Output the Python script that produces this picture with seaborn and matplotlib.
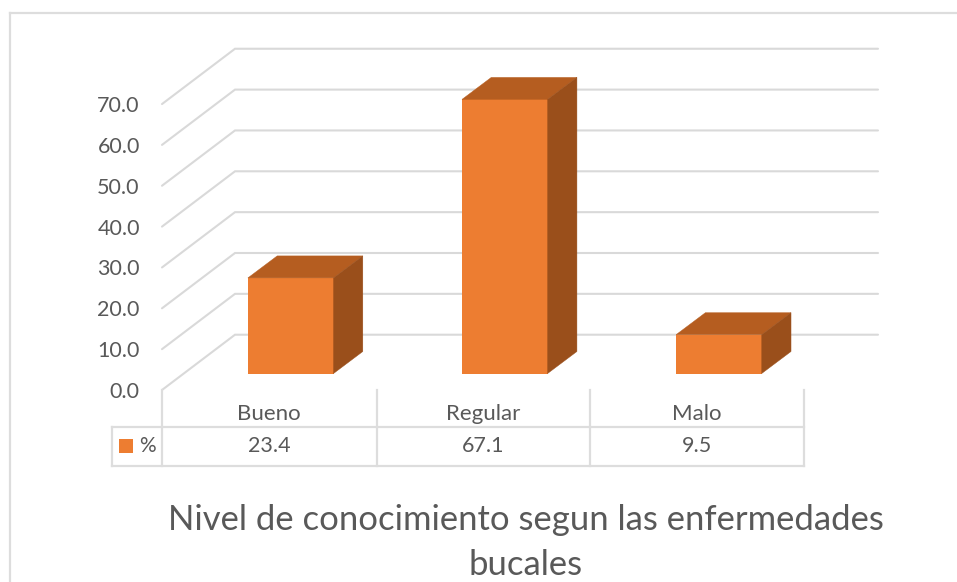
import matplotlib
matplotlib.use("Agg")
import matplotlib.pyplot as plt
from matplotlib.lines import Line2D
from matplotlib.patches import Polygon, Rectangle
import pandas as pd
import seaborn as sns

categories = ["Bueno", "Regular", "Malo"]
percentages = [23.4, 67.1, 9.5]
axis_ticks = [0, 10, 20, 30, 40, 50, 60, 70]
series_name = "%"
title_lines = ["Nivel de conocimiento segun las enfermedades", "bucales"]

FACE = "#ED7D31"
TOP = "#B55D20"
SIDE = "#9A4F1B"
GRID = "#D9D9D9"
TEXT = "#595959"
W, H = 957, 582

sns.set_theme(style="white")
plt.rcParams["font.family"] = ["Lato", "DejaVu Sans"]

fig = plt.figure(figsize=(W / 100, H / 100), dpi=100)
fig.patch.set_facecolor("white")


def fx(px):
    return px / W


def fy(py):
    return 1 - py / H


# Plot area: one category is 214 px wide, one percentage point is about 4.08 px tall
ax_left, ax_right, ax_top, ax_bottom = 162, 878, 40, 390
ax = fig.add_axes([fx(ax_left), fy(ax_bottom), (ax_right - ax_left) / W, (ax_bottom - ax_top) / H])
ax.patch.set_alpha(0)
x_unit, y_unit = 214.1, 4.085
x_origin, y_origin = 290.7, 373.5

data = pd.DataFrame({"nivel": categories, "pct": percentages})
sns.barplot(data=data, x="nivel", y="pct", order=categories, color=FACE, saturation=1,
            width=0.4, ax=ax, zorder=3)

ax.set_xlim((ax_left - x_origin) / x_unit, (ax_right - x_origin) / x_unit)
ax.set_ylim((y_origin - ax_bottom) / y_unit, (y_origin - ax_top) / y_unit)
sns.despine(ax=ax, left=True, bottom=True)
ax.set_xlabel("")
ax.set_ylabel("")

# Extruded sides and tops of the bars
depth_x, depth_y = 29.3 / x_unit, 22 / y_unit
for bar in ax.patches:
    x0, x1 = bar.get_x(), bar.get_x() + bar.get_width()
    h = bar.get_height()
    bar.set_linewidth(0)
    ax.add_patch(Polygon([(x0, h), (x1, h), (x1 + depth_x, h + depth_y), (x0 + depth_x, h + depth_y)],
                         closed=True, fc=TOP, ec=TOP, lw=0.3, zorder=3))
    ax.add_patch(Polygon([(x1, 0), (x1 + depth_x, depth_y), (x1 + depth_x, h + depth_y), (x1, h)],
                         closed=True, fc=SIDE, ec=SIDE, lw=0.3, zorder=3))

# Receding back wall: a diagonal from the front edge, then the horizontal gridline
wall_x0 = (ax_left - x_origin) / x_unit
wall_x1 = (235 - x_origin) / x_unit
wall_x2 = (ax_right - x_origin) / x_unit
front_offset = (y_origin - 390) / y_unit
back_offset = (y_origin - 334.7) / y_unit
for v in axis_ticks:
    ax.plot([wall_x0, wall_x1, wall_x2], [v + front_offset, v + back_offset, v + back_offset],
            color=GRID, lw=1.5, zorder=1, solid_joinstyle="miter", clip_on=False)

ax.set_yticks([v + front_offset for v in axis_ticks], [f"{v:.1f}" for v in axis_ticks])
ax.tick_params(axis="y", length=0, pad=16, labelsize=15.5, labelcolor=TEXT)
ax.set_xticks([])

# Data table beneath the plot
frame_color = "#DDDDDD"


def rule(x0, y0, x1, y1, color=frame_color, lw=1.6):
    fig.add_artist(Line2D([fx(x0), fx(x1)], [fy(y0), fy(y1)], color=color, lw=lw,
                          solid_capstyle="projecting"))


cell_edges = [162, 376.5, 590, 804]
for x in cell_edges:
    rule(x, 390, x, 465.5)
rule(112, 427, 804, 427)
rule(112, 465.5, 804, 465.5)
rule(112, 427, 112, 465.5)

for left, right, name, value in zip(cell_edges[:-1], cell_edges[1:], categories, percentages):
    centre = fx((left + right) / 2)
    fig.text(centre, fy(413.5), name, ha="center", va="center", fontsize=16, color=TEXT)
    fig.text(centre, fy(446), f"{value:.1f}", ha="center", va="center", fontsize=15.5, color=TEXT)

fig.add_artist(Rectangle((fx(119), fy(453)), 14 / W, 14 / H, fc=FACE, ec="none",
                         transform=fig.transFigure))
fig.text(fx(147), fy(446), series_name, ha="center", va="center", fontsize=15, color=TEXT)

fig.text(fx(526), fy(520), title_lines[0], ha="center", va="center", fontsize=24.9, color=TEXT)
fig.text(fx(526), fy(565), title_lines[1], ha="center", va="center", fontsize=24.9, color=TEXT)

# Chart frame, cut off at the right and bottom edges
rule(10, 13, 10, 582)
rule(10, 13, 957, 13)

fig.savefig("out.png", dpi=100)
